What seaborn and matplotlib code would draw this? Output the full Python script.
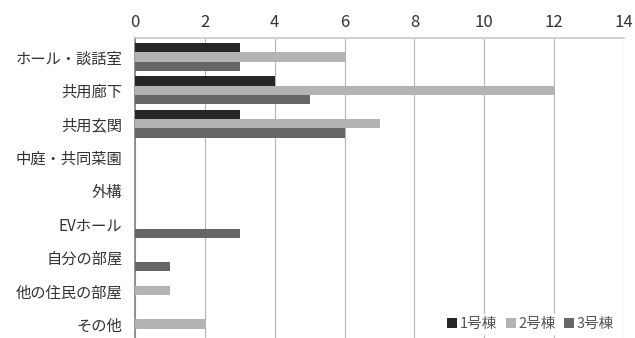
import pandas as pd
import seaborn as sns
import matplotlib as mpl
from matplotlib import pyplot as plt

categories = ["ホール・談話室", "共用廊下", "共用玄関", "中庭・共同菜園", "外構",
              "EVホール", "自分の部屋", "他の住民の部屋", "その他"]
series = ["1号棟", "2号棟", "3号棟"]
bldg1 = [3, 4, 3, 0, 0, 0, 0, 0, 0]
bldg2 = [6, 12, 7, 0, 0, 0, 0, 1, 2]
bldg3 = [3, 5, 6, 0, 0, 3, 1, 0, 0]
colors = ["#262626", "#b3b3b3", "#666666"]

rows = []
for name, vals in zip(series, [bldg1, bldg2, bldg3]):
    for cat, v in zip(categories, vals):
        rows.append({"category": cat, "series": name, "count": v})
df = pd.DataFrame(rows)

sns.set_theme(style="white")
plt.rcParams["font.family"] = ["Noto Sans CJK JP", "DejaVu Sans"]

fig = plt.figure(figsize=(6.35, 3.38), dpi=100)
ax = fig.add_axes([135 / 635, 0, 489 / 635, 300 / 338])

sns.barplot(df, x="count", y="category", hue="series", orient="h",
            palette=colors, width=0.84, gap=0, saturation=1, linewidth=0,
            errorbar=None, ax=ax, zorder=3)

ax.set_xlim(0, 14)
ax.set_ylim(8.42, -0.57)
ax.set_xticks(range(0, 15, 2))
ax.xaxis.tick_top()
ax.tick_params(axis="x", length=0, pad=5, labelsize=12, colors="#333333")
ax.tick_params(axis="y", length=0, pad=9, labelsize=11, colors="#333333")
ax.set_xlabel("")
ax.set_ylabel("")
ax.grid(axis="x", color="#b5b5b5", linewidth=0.8, zorder=0)
for side in ["right", "bottom"]:
    ax.spines[side].set_visible(False)
ax.spines["top"].set_color("#cccccc")
ax.spines["left"].set_color("#888888")

leg = ax.legend(loc="lower right", bbox_to_anchor=(1.0, -0.01), ncol=3,
                frameon=True, fancybox=False, edgecolor="white", framealpha=1,
                handlelength=0.7, handleheight=0.7, handletextpad=0.15,
                columnspacing=0.6, borderpad=0.2, fontsize=10.5)
for t in leg.get_texts():
    t.set_color("#555555")

fig.savefig("out.png", dpi=100)
